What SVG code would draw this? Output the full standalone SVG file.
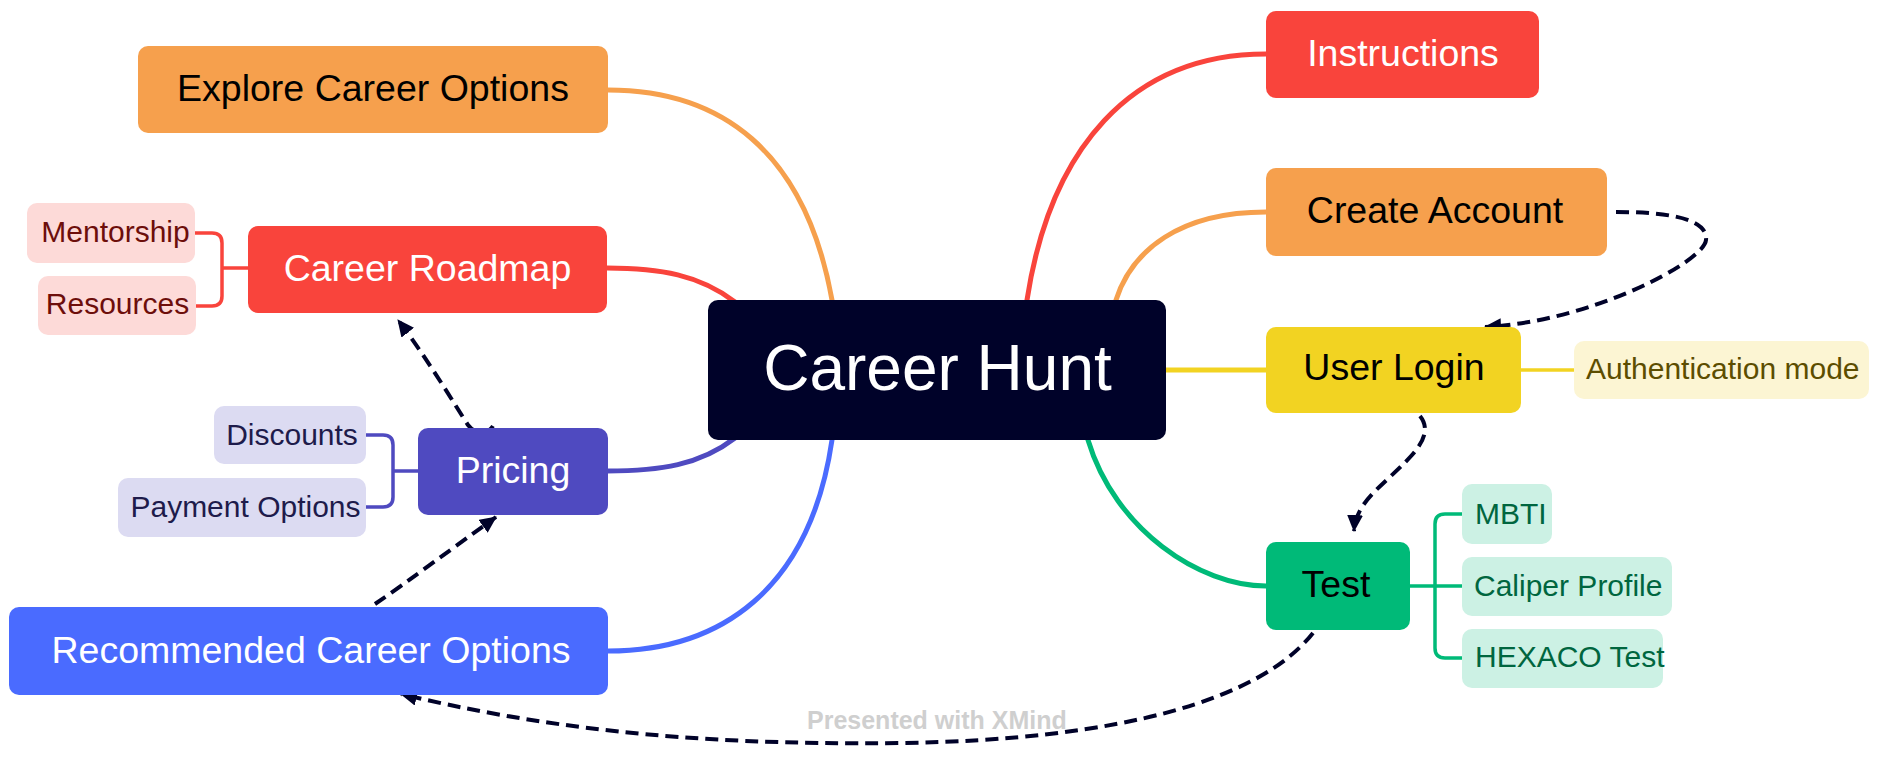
<svg xmlns="http://www.w3.org/2000/svg" width="1878" height="772" viewBox="0 0 1878 772">
<style>
  text { font-family: "Liberation Sans", Arial, sans-serif; }
  .main { font-size: 37.5px; text-anchor: middle; }
  .sub { font-size: 30px; }
  .mid { text-anchor: middle; }
  .br { fill: none; stroke-width: 5; stroke-linecap: round; }
  .ln { fill: none; stroke-width: 3.5; }
  .rel { fill: none; stroke: #000229; stroke-width: 4; stroke-dasharray: 13 7; marker-end: url(#arrow); }
</style>
<defs>
  <marker id="arrow" markerUnits="userSpaceOnUse" markerWidth="18" markerHeight="16" refX="16" refY="8" orient="auto">
    <path d="M0,0 L17,8 L0,16 z" fill="#000229"/>
  </marker>
</defs>
<rect width="1878" height="772" fill="#ffffff"/>

<g id="connectors">
  <path class="br" stroke="#F6A04D" d="M 832 300 C 805 150, 720 90, 608 90"/>
  <path class="br" stroke="#F9443C" d="M 735 302 C 700 275, 660 268, 607 268"/>
  <path class="br" stroke="#4F4AC0" d="M 735 438 C 700 465, 660 471, 607 471"/>
  <path class="br" stroke="#4A6BFF" d="M 832 440 C 810 590, 720 651, 608 651"/>
  <path class="br" stroke="#F9443C" d="M 1027 300 C 1050 150, 1130 54, 1266 54"/>
  <path class="br" stroke="#F6A04D" d="M 1116 300 C 1132 250, 1180 212, 1266 212"/>
  <path class="br" stroke="#F2D322" d="M 1166 370 H 1266"/>
  <path class="br" stroke="#00BA78" d="M 1088 440 C 1115 530, 1200 586, 1266 586"/>
  <!-- sub-branches -->
  <path class="ln" stroke="#F9443C" d="M 195 233 H 212 Q 222 233 222 243 V 296 Q 222 306 212 306 H 195 M 222 268 H 248"/>
  <path class="ln" stroke="#4F4AC0" d="M 366 435 H 383 Q 393 435 393 445 V 497 Q 393 507 383 507 H 366 M 393 471 H 418"/>
  <path class="ln" stroke="#F2D322" d="M 1521 370 H 1574"/>
  <path class="ln" stroke="#00BA78" d="M 1410 586 H 1462 M 1462 514 H 1445 Q 1435 514 1435 524 V 648 Q 1435 658 1445 658 H 1462"/>
  <!-- relationships -->
  <path class="rel" d="M 1616 212 C 1680 212, 1708 222, 1706 240 C 1704 262, 1590 322, 1485 327"/>
  <path class="rel" d="M 1420 416 C 1428 426, 1427 438, 1412 455 C 1385 485, 1356 500, 1354 531"/>
  <path class="rel" d="M 1313 633 C 1260 700, 1120 740, 900 743 C 680 746, 530 725, 401 694"/>
  <path class="rel" d="M 375 604 C 410 580, 450 550, 496 517"/>
  <path class="rel" d="M 493 426 C 488 434, 476 436, 468 425 C 455 405, 425 355, 398 320"/>
</g>

<g id="central">
  <rect x="708" y="300" width="458" height="140" rx="10" fill="#000229"/>
  <text x="937.5" y="390" font-size="64" text-anchor="middle" fill="#ffffff">Career Hunt</text>
</g>

<g id="explore">
  <rect x="138" y="46" width="470" height="87" rx="10" fill="#F6A04D"/>
  <text class="main" x="373" y="101" fill="#000000">Explore Career Options</text>
</g>

<g id="roadmap">
  <rect x="248" y="226" width="359" height="87" rx="10" fill="#F9443C"/>
  <text class="main" x="427.5" y="281" fill="#ffffff">Career Roadmap</text>
</g>
<g id="mentorship">
  <rect x="27" y="203" width="168" height="60" rx="10" fill="#FDDAD8"/>
  <text class="sub mid" x="115.5" y="242" fill="#6D0E0B">Mentorship</text>
</g>
<g id="resources">
  <rect x="38" y="276" width="158" height="59" rx="10" fill="#FDDAD8"/>
  <text class="sub mid" x="117.5" y="314" fill="#6D0E0B">Resources</text>
</g>

<g id="pricing">
  <rect x="418" y="428" width="190" height="87" rx="10" fill="#4F4AC0"/>
  <text class="main" x="513" y="483" fill="#ffffff">Pricing</text>
</g>
<g id="discounts">
  <rect x="214" y="406" width="152" height="58" rx="10" fill="#DCDBF2"/>
  <text class="sub mid" x="292" y="445" fill="#1E1B4B">Discounts</text>
</g>
<g id="payment">
  <rect x="118" y="478" width="248" height="59" rx="10" fill="#DCDBF2"/>
  <text class="sub mid" x="245.5" y="517" fill="#1E1B4B">Payment Options</text>
</g>

<g id="recommended">
  <rect x="9" y="607" width="599" height="88" rx="10" fill="#4A6BFF"/>
  <text class="main" x="311" y="663" fill="#ffffff">Recommended Career Options</text>
</g>

<g id="instructions">
  <rect x="1266" y="11" width="273" height="87" rx="10" fill="#F9443C"/>
  <text class="main" x="1403" y="66" fill="#ffffff">Instructions</text>
</g>

<g id="create-account">
  <rect x="1266" y="168" width="341" height="88" rx="10" fill="#F6A04D"/>
  <text class="main" x="1435" y="223" fill="#000000">Create Account</text>
</g>

<g id="user-login">
  <rect x="1266" y="327" width="255" height="86" rx="10" fill="#F2D322"/>
  <text class="main" x="1394" y="380" fill="#000000">User Login</text>
</g>
<g id="auth">
  <rect x="1574" y="341" width="295" height="58" rx="10" fill="#FCF5D3"/>
  <text class="sub" x="1586" y="379" fill="#5C4D00">Authentication mode</text>
</g>

<g id="test">
  <rect x="1266" y="542" width="144" height="88" rx="10" fill="#00BA78"/>
  <text class="main" x="1336" y="597" fill="#000000">Test</text>
</g>
<g id="mbti">
  <rect x="1462" y="484" width="90" height="60" rx="10" fill="#CCF1E4"/>
  <text class="sub" x="1475" y="524" fill="#00663F">MBTI</text>
</g>
<g id="caliper">
  <rect x="1462" y="557" width="210" height="59" rx="10" fill="#CCF1E4"/>
  <text class="sub" x="1474" y="596" fill="#00663F">Caliper Profile</text>
</g>
<g id="hexaco">
  <rect x="1462" y="629" width="201" height="59" rx="10" fill="#CCF1E4"/>
  <text class="sub" x="1475" y="667" fill="#00663F">HEXACO Test</text>
</g>

<text x="807" y="729" font-size="25" font-weight="bold" fill="#CFCFCF">Presented with XMind</text>
</svg>
